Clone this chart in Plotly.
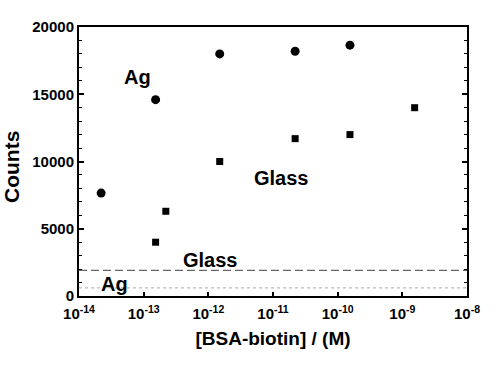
import plotly.graph_objects as go

# Data
ag_conc = [2.2e-14, 1.53e-13, 1.5e-12, 2.2e-11, 1.55e-10]
ag_counts = [7650, 14600, 18000, 18200, 18650]
glass_conc = [1.53e-13, 2.2e-13, 1.5e-12, 2.2e-11, 1.55e-10, 1.55e-9]
glass_counts = [4000, 6300, 10000, 11700, 12000, 14000]
bg_conc = [1e-14, 1e-8]
glass_bg = [1900, 1900]
ag_bg = [600, 600]
x_tickvals = [1e-14, 1e-13, 1e-12, 1e-11, 1e-10, 1e-9, 1e-8]
x_ticktext = ["<b>10<sup>-14</sup></b>", "<b>10<sup>-13</sup></b>", "<b>10<sup>-12</sup></b>",
              "<b>10<sup>-11</sup></b>", "<b>10<sup>-10</sup></b>", "<b>10<sup>-9</sup></b>",
              "<b>10<sup>-8</sup></b>"]
y_tickvals = [0, 5000, 10000, 15000, 20000]
y_ticktext = ["0", "5000", "10000", "15000", "20000"]

FONT = "Liberation Sans, Arial, sans-serif"

# plot area spans x 79..467, y 27..296 in the page
PL, PR, PT, PB = 79, 467, 27, 296

fig = go.Figure()
fig.add_trace(go.Scatter(x=bg_conc, y=glass_bg, mode="lines",
                         line=dict(color="#666666", width=1.3, dash="8px,4px"), showlegend=False))
fig.add_trace(go.Scatter(x=bg_conc, y=ag_bg, mode="lines",
                         line=dict(color="#bbbbbb", width=1.3, dash="dot"), showlegend=False))
fig.add_trace(go.Scatter(x=ag_conc, y=ag_counts, mode="markers",
                         marker=dict(symbol="circle", size=9, color="black"), showlegend=False))
fig.add_trace(go.Scatter(x=glass_conc, y=glass_counts, mode="markers",
                         marker=dict(symbol="square", size=7, color="black"), showlegend=False))

ann = dict(showarrow=False, font=dict(family=FONT, size=20, color="black", weight="bold"),
           xref="paper", yref="paper", xanchor="center", yanchor="middle")
def add_label(text, px, py, **kw):
    a = dict(ann)
    a.update(kw)
    fig.add_annotation(text=text, x=(px - PL) / (PR - PL), y=(PB - py) / (PB - PT), **a)

add_label("Ag", 137, 77)
add_label("Glass", 281, 178)
add_label("Glass", 210, 260)
add_label("Ag", 114, 284)
# y-axis title
add_label("Counts", 11, 167, textangle=-90,
          font=dict(family=FONT, size=21, color="black", weight="bold"))

fig.update_layout(
    width=500, height=392,
    margin=dict(l=PL, r=500 - PR, t=PT, b=392 - PB, autoexpand=False),
    plot_bgcolor="white", paper_bgcolor="white",
    font=dict(family=FONT, color="black"),
    xaxis=dict(type="log", range=[-14, -8], tickvals=x_tickvals, ticktext=x_ticktext,
               ticks="inside", ticklen=4, tickwidth=1.5, tickcolor="black",
               showline=True, linecolor="black", linewidth=2, mirror=True,
               showgrid=False, zeroline=False, automargin=False,
               ticklabelstandoff=3,
               tickfont=dict(size=15, family=FONT),
               title=dict(text="<b>[BSA-biotin] / (M)</b>", font=dict(size=19, family=FONT), standoff=11)),
    yaxis=dict(range=[0, 20000], tickvals=y_tickvals, ticktext=y_ticktext,
               ticks="inside", ticklen=5, tickwidth=1.5, tickcolor="black",
               minor=dict(ticks="inside", dtick=1000, ticklen=3, tickcolor="black", tickwidth=1),
               showline=True, linecolor="black", linewidth=2, mirror="ticks",
               showgrid=False, zeroline=False, automargin=False,
               tickfont=dict(size=15, family=FONT, weight="bold")),
)

fig.write_html("out.html",
               config={"displayModeBar": False},
               post_script="document.body.style.margin='0';document.body.style.overflow='hidden';")
